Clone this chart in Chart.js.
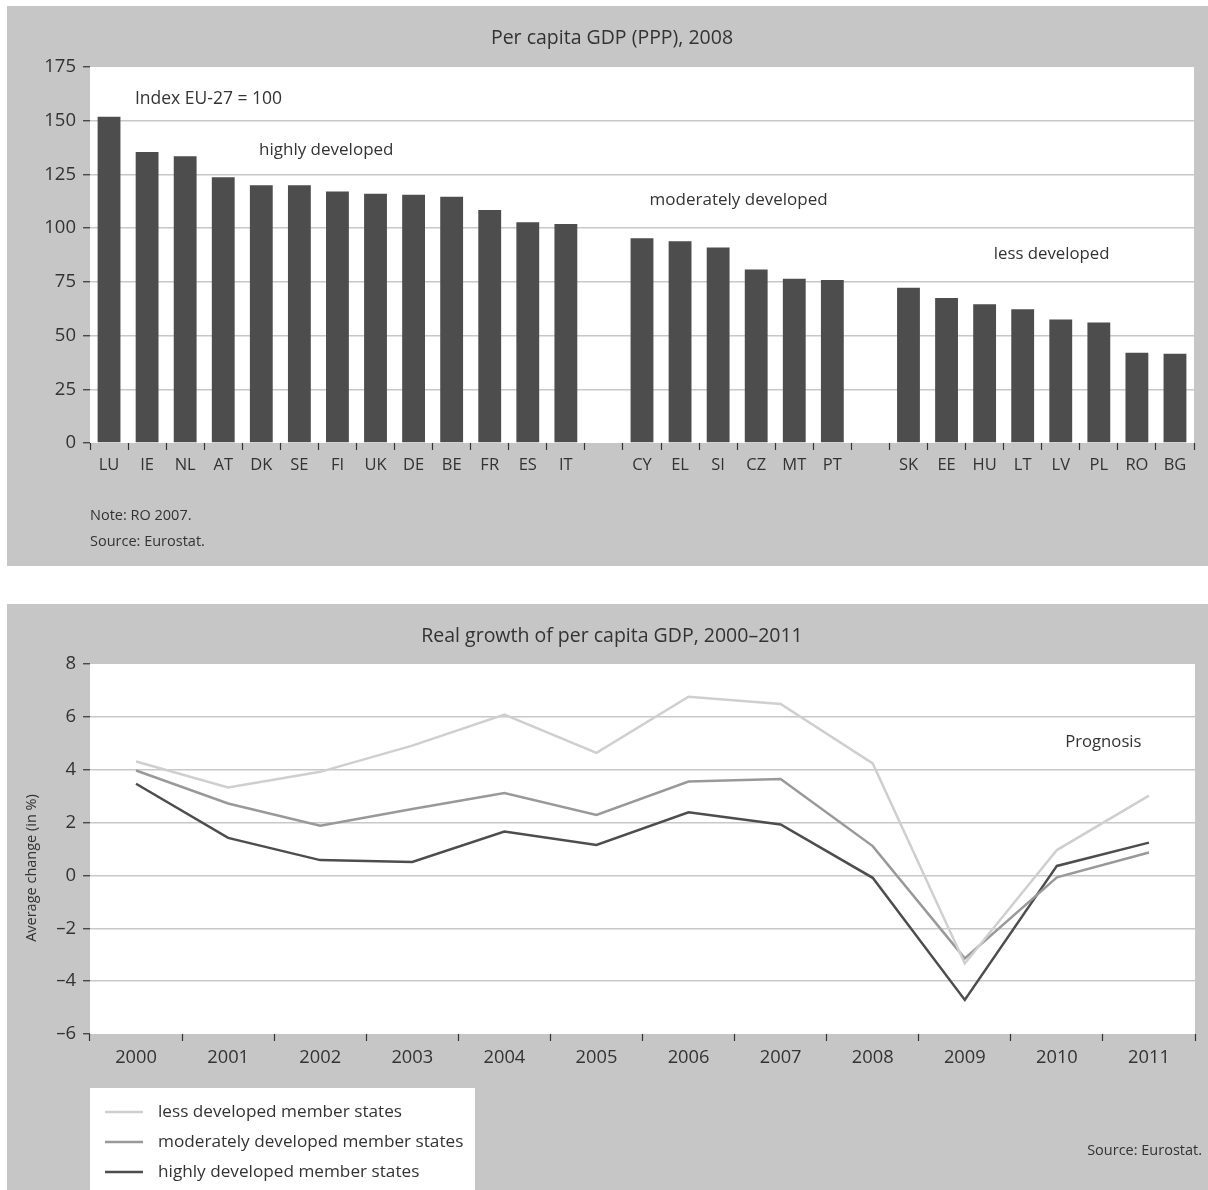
<!DOCTYPE html>
<html>
<head>
<meta charset="utf-8">
<script src="https://cdn.jsdelivr.net/npm/chart.js@4.4.1/dist/chart.umd.min.js"></script>
<style>
  html, body { margin: 0; padding: 0; background: #ffffff; }
  body { width: 1208px; height: 1190px; position: relative; overflow: hidden; }
  .panel { position: absolute; left: 7px; background: #c6c6c6; }
  #p1 { top: 6px; width: 1201px; height: 560px; }
  #p2 { top: 604px; width: 1201px; height: 586px; }
  canvas { display: block; }
</style>
</head>
<body>
<div class="panel" id="p1"><canvas id="gdp" width="1201" height="560"></canvas></div>
<div class="panel" id="p2"><canvas id="growth" width="1201" height="586"></canvas></div>
<script>
// Per capita GDP (PPP) 2008, index EU-27 = 100, by country group
const highlyCountries = ['LU', 'IE', 'NL', 'AT', 'DK', 'SE', 'FI', 'UK', 'DE', 'BE', 'FR', 'ES', 'IT'];
const highlyValues = [151.9, 135.4, 133.5, 123.7, 120.0, 120.0, 117.1, 116.0, 115.6, 114.6, 108.5, 102.8, 101.9];
const moderateCountries = ['CY', 'EL', 'SI', 'CZ', 'MT', 'PT'];
const moderateValues = [95.3, 93.9, 91.0, 80.7, 76.4, 75.9];
const lessCountries = ['SK', 'EE', 'HU', 'LT', 'LV', 'PL', 'RO', 'BG'];
const lessValues = [72.2, 67.5, 64.6, 62.3, 57.5, 56.1, 42.0, 41.5];
const gdpTicks = [0, 25, 50, 75, 100, 125, 150, 175];

// Real growth of per capita GDP, average change in %
const years = ['2000', '2001', '2002', '2003', '2004', '2005', '2006', '2007', '2008', '2009', '2010', '2011'];
const lessGrowth = [4.31, 3.33, 3.92, 4.91, 6.09, 4.64, 6.76, 6.49, 4.24, -3.33, 0.96, 3.02];
const moderateGrowth = [3.97, 2.72, 1.88, 2.51, 3.12, 2.29, 3.55, 3.65, 1.11, -3.14, -0.07, 0.87];
const highlyGrowth = [3.47, 1.42, 0.58, 0.51, 1.66, 1.15, 2.39, 1.93, -0.09, -4.71, 0.36, 1.24];
const growthTicks = [-6, -4, -2, 0, 2, 4, 6, 8];

const FONT = "'Open Sans', 'Noto Sans', sans-serif";
const TEXT = '#333333';
const GRID = '#c8c8c8';
const BAR = '#4d4d4d';
const LINE_LESS = '#cfcfcf';
const LINE_MOD = '#999999';
const LINE_HIGH = '#4d4d4d';

Chart.defaults.font.family = FONT;
Chart.defaults.color = TEXT;

// Groups separated by an empty category
const barLabels = [...highlyCountries, '', ...moderateCountries, '', ...lessCountries];
const barData = [...highlyValues, null, ...moderateValues, null, ...lessValues];

const plotBackground = {
  id: 'plotBackground',
  beforeDraw(chart) {
    const { ctx, chartArea: a } = chart;
    ctx.save();
    ctx.fillStyle = '#ffffff';
    ctx.fillRect(a.left, a.top, a.right - a.left, a.bottom - a.top);
    ctx.restore();
  }
};

function txt(ctx, s, x, y, size, align) {
  ctx.font = size + 'px ' + FONT;
  ctx.fillStyle = TEXT;
  ctx.textAlign = align || 'left';
  ctx.textBaseline = 'middle';
  ctx.fillText(s, x, y);
}

// Group captions placed at (category position, value)
const gdpNotes = [
  { text: 'Index EU-27 = 100', at: 0.68, value: 160, size: 17.5 },
  { text: 'highly developed', at: 3.94, value: 136.3, size: 17 },
  { text: 'moderately developed', at: 14.2, value: 113.2, size: 17 },
  { text: 'less developed', at: 23.24, value: 87.7, size: 16.8 }
];

const gdpText = {
  id: 'gdpText',
  afterDraw(chart) {
    const { ctx, chartArea: a, scales } = chart;
    const y = scales.y;
    const step = (a.right - a.left) / barLabels.length;
    ctx.save();
    txt(ctx, 'Per capita GDP (PPP), 2008', 605, 32, 19.5, 'center');
    gdpNotes.forEach(n => {
      const px = a.left + step * (n.at + 0.5);
      txt(ctx, n.text, px, y.getPixelForValue(n.value), n.size, 'left');
    });
    txt(ctx, 'Note: RO 2007.', a.left, 510, 14.5, 'left');
    txt(ctx, 'Source: Eurostat.', a.left, 536, 14.5, 'left');
    ctx.restore();
  }
};

new Chart(document.getElementById('gdp'), {
  type: 'bar',
  data: {
    labels: barLabels,
    datasets: [{
      data: barData,
      backgroundColor: BAR,
      borderWidth: 0,
      barPercentage: 0.6,
      categoryPercentage: 1.0
    }]
  },
  options: {
    responsive: false,
    animation: false,
    devicePixelRatio: 1,
    layout: { padding: { top: 61, right: 14, left: 0, bottom: 0 } },
    plugins: { legend: { display: false }, tooltip: { enabled: false }, title: { display: false } },
    scales: {
      x: {
        offset: true,
        grid: { offset: true, drawOnChartArea: false, drawTicks: true, tickLength: 7, tickColor: '#333', tickWidth: 1.2 },
        border: { display: false },
        ticks: { color: TEXT, font: { size: 16.5 }, padding: 5, autoSkip: false, maxRotation: 0 },
        afterFit(s) { s.height = 123; }
      },
      y: {
        min: 0, max: 175,
        afterBuildTicks(s) { s.ticks = gdpTicks.map(v => ({ value: v })); },
        grid: {
          color: c => (c.tick && (c.tick.value === 0 || c.tick.value === 175)) ? 'rgba(0,0,0,0)' : GRID,
          lineWidth: 1.5, tickColor: '#333', tickLength: 7, tickWidth: 1.2
        },
        border: { display: false },
        ticks: { color: TEXT, font: { size: 18.5 }, padding: 7 },
        afterFit(s) { s.width = 83; }
      }
    }
  },
  plugins: [plotBackground, gdpText]
});

const growthSeries = [
  { label: 'less developed member states', data: lessGrowth, color: LINE_LESS },
  { label: 'moderately developed member states', data: moderateGrowth, color: LINE_MOD },
  { label: 'highly developed member states', data: highlyGrowth, color: LINE_HIGH }
];

const growthText = {
  id: 'growthText',
  afterDraw(chart) {
    const { ctx, chartArea: a, scales } = chart;
    const y = scales.y;
    const step = (a.right - a.left) / years.length;
    ctx.save();
    txt(ctx, 'Real growth of per capita GDP, 2000\u20132011', 605, 32, 19.5, 'center');
    // axis title
    ctx.save();
    ctx.translate(25, 264);
    ctx.rotate(-Math.PI / 2);
    txt(ctx, 'Average change (in %)', 0, 0, 14.5, 'center');
    ctx.restore();
    txt(ctx, 'Prognosis', a.left + step * (10.09 + 0.5), y.getPixelForValue(5.03), 16.7, 'left');
    // legend box
    ctx.fillStyle = '#ffffff';
    ctx.fillRect(a.left, 484, 385, 102);
    chart.data.datasets.forEach((ds, i) => {
      const ry = 508 + i * 30;
      ctx.strokeStyle = ds.borderColor;
      ctx.lineWidth = 2.5;
      ctx.beginPath();
      ctx.moveTo(a.left + 15, ry);
      ctx.lineTo(a.left + 53, ry);
      ctx.stroke();
      txt(ctx, ds.label, a.left + 68, ry, 17.2, 'left');
    });
    txt(ctx, 'Source: Eurostat.', 1195, 547, 14.5, 'right');
    ctx.restore();
  }
};

new Chart(document.getElementById('growth'), {
  type: 'line',
  data: {
    labels: years,
    datasets: growthSeries.map(s => ({
      label: s.label,
      data: s.data,
      borderColor: s.color,
      backgroundColor: s.color,
      borderWidth: 2.5,
      pointRadius: 0,
      tension: 0,
      fill: false
    }))
  },
  options: {
    responsive: false,
    animation: false,
    devicePixelRatio: 1,
    layout: { padding: { top: 60, right: 13, left: 0, bottom: 0 } },
    plugins: { legend: { display: false }, tooltip: { enabled: false }, title: { display: false } },
    scales: {
      x: {
        offset: true,
        grid: { offset: true, drawOnChartArea: false, drawTicks: true, tickLength: 7, tickColor: '#333', tickWidth: 1.2 },
        border: { display: false },
        ticks: { color: TEXT, font: { size: 18.3 }, padding: 6, autoSkip: false, maxRotation: 0 },
        afterFit(s) { s.height = 156; }
      },
      y: {
        min: -6, max: 8,
        afterBuildTicks(s) { s.ticks = growthTicks.map(v => ({ value: v })); },
        grid: {
          color: c => (c.tick && (c.tick.value === -6 || c.tick.value === 8)) ? 'rgba(0,0,0,0)' : GRID,
          lineWidth: 1.5, tickColor: '#333', tickLength: 7, tickWidth: 1.2
        },
        border: { display: false },
        ticks: {
          color: TEXT, font: { size: 18.5 }, padding: 7,
          callback: v => String(v).replace('-', '\u2013')
        },
        afterFit(s) { s.width = 83; }
      }
    }
  },
  plugins: [plotBackground, growthText]
});
</script>
</body>
</html>
